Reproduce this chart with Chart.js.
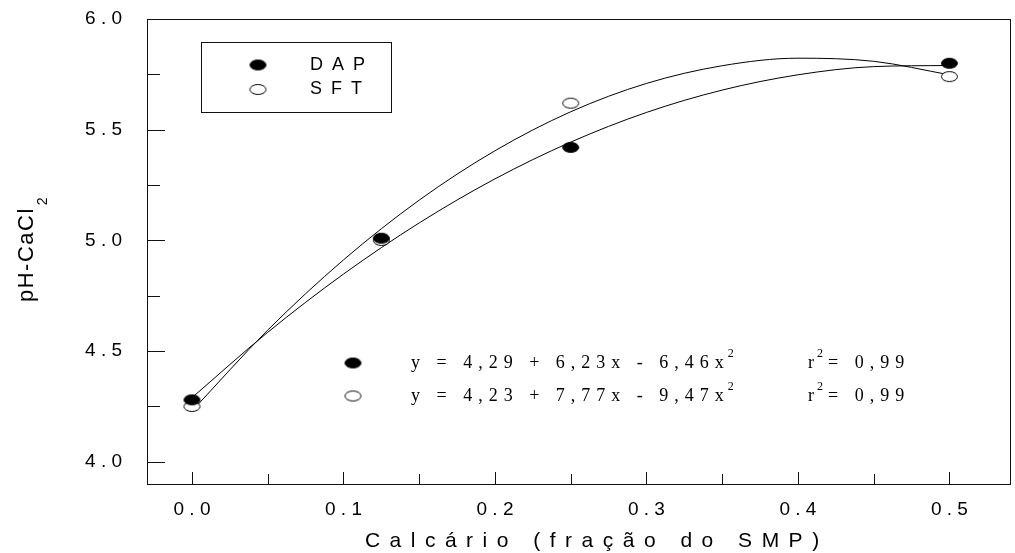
<!DOCTYPE html>
<html lang="pt">
<head>
<meta charset="utf-8">
<title>pH-CaCl2 x Calcário</title>
<script src="https://cdn.jsdelivr.net/npm/chart.js@4.4.1/dist/chart.umd.min.js"></script>
<style>
  html, body { margin: 0; padding: 0; background: #fff; }
  #wrap { width: 1015px; height: 553px; }
</style>
</head>
<body>
<div id="wrap"><canvas id="phChart" width="1015" height="553"></canvas></div>
<script>
// doses de calcário (fração do SMP) e pH medido
const doses = [0, 0.125, 0.25, 0.5];
const phDAP = [4.28, 5.01, 5.42, 5.80];
const phSFT = [4.25, 5.00, 5.62, 5.74];

// curvas ajustadas
const curveX = [0, 0.05, 0.1, 0.15, 0.2, 0.25, 0.3, 0.35, 0.4, 0.45, 0.5];
const curveDAP = [4.29, 4.585, 4.848, 5.079, 5.278, 5.444, 5.578, 5.679, 5.748, 5.785, 5.79];
const curveSFT = [4.23, 4.595, 4.912, 5.182, 5.405, 5.581, 5.709, 5.789, 5.823, 5.809, 5.748];

const seriesNames = ['DAP', 'SFT'];
const eqMain = ['y = 4,29 + 6,23x - 6,46x', 'y = 4,23 + 7,77x - 9,47x'];
const eqR2 = ['0,99', '0,99'];

const SANS = '"Liberation Sans", Arial, sans-serif';
const SERIF = '"Liberation Serif", "Times New Roman", serif';

function makeDot(filled) {
    const c = document.createElement('canvas');
    c.width = 19;
    c.height = 13;
    const g = c.getContext('2d');
    g.beginPath();
    g.ellipse(9.5, 6.5, 8, 5, 0, 0, Math.PI * 2);
    g.fillStyle = filled ? '#000' : '#fff';
    g.fill();
    g.lineWidth = 1;
    g.strokeStyle = '#000';
    g.stroke();
    return c;
}
const dotFilled = makeDot(true);
const dotOpen = makeDot(false);

const pts = (xs, ys) => xs.map((x, i) => ({ x, y: ys[i] }));
const spaced = v => v.toFixed(1).split('').join(' ');

// desenha moldura, marcas internas, legenda, equações e títulos
const decorPlugin = {
    id: 'decor',
    afterDraw(chart) {
        const { ctx, chartArea: a, scales } = chart;
        ctx.save();
        ctx.strokeStyle = '#111';
        ctx.lineWidth = 1;
        ctx.strokeRect(Math.round(a.left) + 0.5, Math.round(a.top) + 0.5,
            Math.round(a.right - a.left), Math.round(a.bottom - a.top));

        // marcas do eixo y
        ctx.beginPath();
        scales.y.ticks.forEach(t => {
            const yy = Math.round(scales.y.getPixelForValue(t.value)) + 0.5;
            const major = Math.round(t.value * 4) % 2 === 0;
            ctx.moveTo(a.left, yy);
            ctx.lineTo(a.left + (major ? 18 : 13), yy);
        });
        // marcas do eixo x
        scales.x.ticks.forEach(t => {
            const xx = Math.round(scales.x.getPixelForValue(t.value)) + 0.5;
            const major = Math.round(t.value * 20) % 2 === 0;
            ctx.moveTo(xx, a.bottom);
            ctx.lineTo(xx, a.bottom - (major ? 12 : 10));
        });
        ctx.stroke();

        // caixa de legenda
        ctx.strokeRect(201.5, 42.5, 190, 70);
        const dots = [dotFilled, dotOpen];
        ctx.fillStyle = '#000';
        ctx.font = '18px ' + SANS;
        ctx.textBaseline = 'middle';
        ctx.letterSpacing = '9px';
        seriesNames.forEach((name, i) => {
            const yy = 65 + i * 24.5;
            ctx.drawImage(dots[i], 258 - 9.5, yy - 6.5);
            ctx.fillText(name, 310, yy);
        });

        // equações
        eqMain.forEach((eq, i) => {
            const yy = 363 + i * 33;
            ctx.drawImage(dots[i], 353 - 9.5, yy - 6.5);
            ctx.font = '18px ' + SERIF;
            ctx.letterSpacing = '6px';
            ctx.fillText(eq, 411, yy);
            const w = ctx.measureText(eq).width;
            ctx.font = '12px ' + SERIF;
            ctx.letterSpacing = '0px';
            ctx.fillText('2', 411 + w - 2, yy - 9);
            ctx.font = '18px ' + SERIF;
            ctx.fillText('r', 808, yy);
            ctx.font = '12px ' + SERIF;
            ctx.fillText('2', 817, yy - 9);
            ctx.font = '18px ' + SERIF;
            ctx.letterSpacing = '6px';
            ctx.fillText('= ' + eqR2[i], 828, yy);
        });

        // título do eixo x
        ctx.font = '21px ' + SANS;
        ctx.letterSpacing = '9.5px';
        ctx.textBaseline = 'alphabetic';
        const xt = 'Calcário (fração do SMP)';
        const xw = ctx.measureText(xt).width - 9.5;
        ctx.fillText(xt, 592 - xw / 2, 547);

        // título do eixo y
        ctx.translate(33, 302);
        ctx.rotate(-Math.PI / 2);
        ctx.font = '22px ' + SANS;
        ctx.letterSpacing = '1.5px';
        ctx.fillText('pH-CaCl', 0, 0);
        const yw = ctx.measureText('pH-CaCl').width;
        ctx.font = '14px ' + SANS;
        ctx.letterSpacing = '0px';
        ctx.fillText('2', yw + 2, 14);
        ctx.restore();
    }
};

new Chart(document.getElementById('phChart'), {
    type: 'scatter',
    data: {
        datasets: [
            { label: 'DAP', data: pts(doses, phDAP), pointStyle: dotFilled, pointRadius: 8 },
            { label: 'SFT', data: pts(doses, phSFT), pointStyle: dotOpen, pointRadius: 8 },
            { label: 'DAP ajuste', data: pts(curveX, curveDAP), showLine: true, pointRadius: 0,
              borderColor: '#000', borderWidth: 1, cubicInterpolationMode: 'monotone' },
            { label: 'SFT ajuste', data: pts(curveX, curveSFT), showLine: true, pointRadius: 0,
              borderColor: '#000', borderWidth: 1, cubicInterpolationMode: 'monotone' }
        ]
    },
    options: {
        responsive: false,
        animation: false,
        devicePixelRatio: 1,
        layout: { autoPadding: false, padding: { top: 19, right: 5, left: 0, bottom: 0 } },
        plugins: {
            legend: { display: false },
            tooltip: { enabled: false }
        },
        scales: {
            x: {
                type: 'linear',
                min: -0.0297,
                max: 0.54,
                // marcas invisíveis só para afastar os rótulos do eixo
                grid: { display: false, drawTicks: true, tickLength: 14 },
                border: { display: false },
                ticks: {
                    stepSize: 0.05,
                    includeBounds: false,
                    autoSkip: false,
                    maxRotation: 0,
                    padding: 0,
                    color: '#000',
                    font: { family: SANS, size: 19 },
                    callback: v => Math.round(v * 20) % 2 === 0 ? spaced(v) : ''
                },
                afterFit: s => { s.height = 69; }
            },
            y: {
                min: 3.9,
                max: 6.0,
                grid: { display: false, drawTicks: true, tickLength: 22 },
                border: { display: false },
                ticks: {
                    stepSize: 0.25,
                    includeBounds: false,
                    autoSkip: false,
                    padding: 3,
                    color: '#000',
                    font: { family: SANS, size: 19 },
                    callback: v => Math.round(v * 4) % 2 === 0 ? spaced(v) : ''
                },
                afterFit: s => { s.width = 147; }
            }
        }
    },
    plugins: [decorPlugin]
});
</script>
</body>
</html>
